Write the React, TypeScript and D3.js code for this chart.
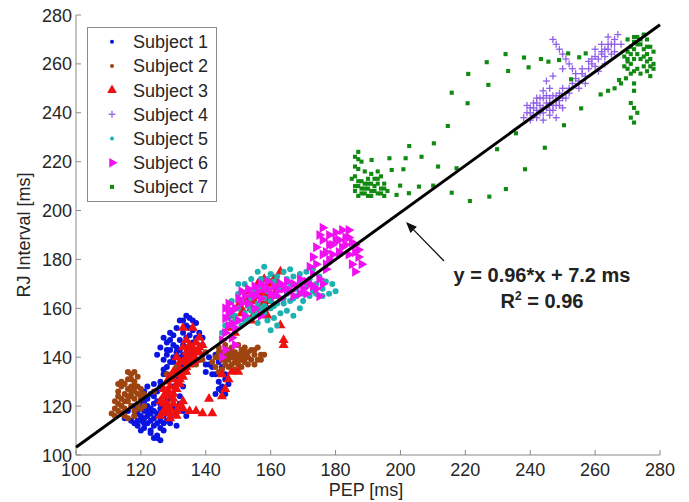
import React from "react";
import * as d3 from "d3";

const W = 689;
const H = 502;

const xTicks = [100, 120, 140, 160, 180, 200, 220, 240, 260, 280];
const yTicks = [100, 120, 140, 160, 180, 200, 220, 240, 260, 280];

const subjectNames = ["Subject 1", "Subject 2", "Subject 3", "Subject 4", "Subject 5", "Subject 6", "Subject 7"];

const subject1: [number, number][] = [
  [119,112],[120,114],[121,111],[122,113],[123,110],[124,112],[125,108],[126,111],[127,113],[122,116],[121,118],[123,117],[124,115],[125,117],[126,119],[127,116],[128,118],[120,119],[122,120],[124,121],[125,122],[127,120],[128,122],[126,114],[123,119],[121,122],[119,117],[118,116],[117,114],[116,118],[115,115],[114,117],[118,120],[124,107],[126,106],[129,115],[130,119],[129,123],[130,125],[128,126],
  [126,130],[127,133],[128,136],[127,139],[128,141],[129,143],[130,145],[129,147],[131,142],[130,138],[132,140],[131,135],[133,137],[132,147],[133,150],[134,153],[133,155],[135,156],[136,151],[137,154],[138,150],[136,146],[134,144],[135,141],[137,143],[138,139],[139,141],[140,137],[141,140],[139,145],[128,146],[126,144],[125,141],[127,148],[129,150],[131,152],[125,126],[126,128],[124,129],[123,125],[122,128],[121,126],[130,128],[131,131],[132,124],[133,128],
  [142,136],[143,133],[144,130],[145,128],[146,131],[144,138],[143,141],[145,126],[146,125],[147,129],
  [129,113],[131,112],[133,118],[132,121],[134,116],[123,109],[125,107],[121,115],[120,110],[118,113],
  [120,116],[122,118],[124,118],[126,116],[125,113],[123,114],[121,113],[127,110],[128,114],[126,121],[124,124],[122,123],[120,121],[119,114],[128,133],[129,138],[130,140],[131,144],[132,143],[133,145],[134,148],[135,149],[136,155],[134,157],[132,155],[130,149],[128,143],[127,135],[133,141],[135,152],[137,148],[139,148],[141,137],[140,134],[142,133],[144,127],[143,125],[146,133],[145,136]
];

const subject2: [number, number][] = [
  [112,116],[113,118],[114,117],[115,119],[113,121],[114,123],[115,125],[116,127],[115,129],[116,131],[117,133],[118,130],[119,128],[118,126],[117,124],[116,122],[117,120],[118,118],[119,121],[120,123],[121,125],[120,127],[119,132],[117,128],[114,128],[113,126],[115,122],[112,119],[111,117],[116,115],[118,116],[120,119],[121,120],[116,134],[118,134],[119,125],[114,130],[113,129],
  [124,126],[128,133],[131,136],[134,138],[137,137],[139,139],[140,142],
  [142,138],[143,140],[144,142],[145,139],[146,141],[147,143],[148,140],[149,138],[150,141],[151,139],[152,142],[153,140],[154,143],[155,141],[156,139],[147,136],[149,135],[151,136],[153,137],[146,137],[145,135],[148,144],[150,145],[144,134],[143,136],[152,144],[155,137],[157,141],[156,144],[149,142],[151,143],[146,145],[144,144],[148,137],[150,139],[152,138],[147,139],
  [114,120],[115,116],[116,124],[117,126],[118,123],[119,119],[113,124],[112,122],[117,131],[118,128],[120,125],[145,142],[147,141],[149,140],[150,137],[152,140],[154,139],[153,142],[151,141],[148,142],[146,139],[144,140],[155,143],[157,139],[158,141]
];

const subject3: [number, number][] = [
  [126,116],[127,118],[128,117],[129,119],[130,121],[131,118],[132,120],[133,122],[128,121],[127,124],[128,126],[129,128],[130,125],[131,127],[132,129],[130,131],[131,133],[132,135],[133,132],[134,134],[133,138],[134,140],[135,137],[136,141],[137,139],[136,144],[137,146],[138,148],[135,145],[134,147],[133,152],[136,152],[138,142],[139,145],[128,130],[127,127],[126,122],[129,115],[131,116],[135,118],[137,118],[139,117],[142,117],[141,123],[145,124],[146,127],[147,131],[148,134],[145,133],[150,134],
  [148,157],[150,161],[151,158],[152,163],[153,167],[154,160],[155,158],[156,165],[157,162],[158,160],[159,164],[160,170],[161,172],[162,168],[160,163],[157,167],[159,157],[163,153],[164,147],[164,145],[162,171],[163,175],[158,172],[156,170],[154,155],[149,150],[147,152],
  [128,119],[130,123],[129,125],[131,129],[132,131],[133,134],[134,136],[135,139],[136,138],[137,142],[138,144],[135,143],[134,142],[133,144],[132,138],[131,140],[129,132],[130,134],[128,124],[127,121],[129,117],[133,119],[151,160],[153,163],[155,163],[157,165],[159,166],[161,165],[158,162],[156,160]
];

const subject4: [number, number][] = [
  [238,238],[239,240],[240,242],[241,239],[242,241],[243,243],[244,240],[245,242],[246,244],[247,241],[248,243],[249,245],[250,242],[241,244],[243,246],[245,247],[247,247],[249,248],[240,237],[242,238],[244,237],[246,239],[248,238],[251,246],[252,248],[239,243],[244,249],[246,250],[250,250],
  [252,250],[253,252],[254,254],[255,253],[256,256],[257,255],[258,258],[259,260],[260,259],[261,262],[262,264],[263,263],[264,266],[265,268],[266,270],[267,272],[264,271],[262,268],[260,266],[265,264],[268,268],[266,265],[263,260],[261,257],[259,262],
  [247,270],[248,268],[249,266],[250,264],[251,262],[252,260],[253,258],[250,258],[247,255],[245,253],
  [240,240],[241,242],[242,244],[243,240],[244,242],[245,244],[246,241],[247,243],[248,245],[249,243],[250,246],[242,246],[244,246],[246,246],[248,247],[254,256],[256,258],[258,261],[260,263],[262,265],[264,268],[266,268],[263,266],[255,250],[257,252]
];

const subject5: [number, number][] = [
  [145,150],[146,153],[147,156],[148,158],[149,155],[150,160],[151,163],[152,158],[153,161],[154,164],[155,166],[156,162],[157,160],[158,164],[159,167],[160,163],[161,161],[162,165],[163,168],[164,162],[165,166],[166,170],[167,164],[168,168],[169,171],[170,166],[171,169],[172,172],[173,167],[174,170],[175,173],[176,168],[177,171],[178,166],[179,170],[180,167],[152,170],[154,172],[156,175],[158,177],[160,174],[157,172],[155,168],[150,166],[148,163],[162,173],[164,175],[166,176],[153,156],[156,154],[159,155],[161,156],[163,158],[165,159],[167,157],[169,160],[160,151],[162,153],[158,158],[155,157],
  [151,153],[152,155],[154,159],[156,158],[158,161],[160,160],[162,162],[164,164],[166,163],[168,165],[170,163],[172,165],[174,166],[176,165],[157,169],[159,172],[161,171],[163,170],[165,172],[167,173],[169,174],[171,175],[173,176],[150,170],[149,157],[148,153]
];

const subject6: [number, number][] = [
  [145,140],[146,143],[145,147],[146,150],[147,153],[146,156],[148,159],[147,162],[149,160],[150,164],[151,167],[152,165],[153,162],[154,166],[155,169],[156,167],[157,164],[158,168],[159,171],[160,166],[161,169],[162,167],[163,164],[164,168],[165,171],[166,167],[167,165],[168,169],[169,172],[170,168],[171,166],[172,170],[173,174],[174,168],[175,165],[176,170],[177,176],[172,177],[173,181],[174,185],[175,190],[176,188],[177,183],[178,180],[179,186],[180,191],[181,188],[182,185],[183,189],[184,192],[185,187],[186,183],[187,181],[188,178],[186,175],[185,178],[184,182],[155,160],[157,157],[150,155],[152,157],[148,148],[149,145],
  [151,162],[153,168],[155,165],[157,170],[159,168],[161,165],[163,170],[165,168],[167,170],[169,166],[171,171],[173,169],[175,172],[174,178],[176,182],[178,186],[180,188],[182,192],[184,189],[186,186],[187,184],[178,190],[176,193],[177,178],[179,182],[181,183],[183,186],[149,152],[147,158],[146,160],[148,154]
];

const subject7: [number, number][] = [
  [186,208],[187,210],[188,207],[189,209],[190,211],[191,208],[192,210],[193,207],[194,209],[195,211],[188,212],[190,213],[192,213],[194,214],[186,214],[187,217],[188,220],[186,222],[187,224],[189,216],[191,215],[193,216],[190,206],[195,206],[196,208],
  [186,210],[187,212],[188,209],[189,211],[190,209],[191,211],[192,208],[193,211],[194,207],[195,209],[189,207],[191,206],[193,213],[187,206],[185,213],[186,218],[187,221],
  [191.1,220.7],[196.6,221.4],[197.3,216.6],[200.9,216.9],[201.6,221.4],[202.7,226.4],[199.9,210.2],[202.6,207.1],[198.8,206.4],[205.7,209.8],[206.5,222.0],[210.3,227.5],[211.6,218.0],[210.1,210.2],[214.6,234.6],[215.8,207.3],[217.3,217.3],[221.4,203.9],[215.8,248.2],[220.7,243.9],[220.9,255.9],[226.6,260.7],[227.1,251.4],[227.4,205.7],[229.8,225.1],[232.5,208.8],[232.4,264.0],[233.2,257.1],[235.6,231.6],[238.4,216.9],[238.1,262.6],[239.5,258.6],[243.3,262.0],[245.6,260.9],[244.5,225.7],[248.9,261.6],[250.4,234.9],[252.6,253.7],[251.7,264.3],[255.1,262.7],[255.7,241.8],[257.1,264.3],[261.7,247.5],[267.4,253.4],[269.5,254.1],
  [269,263],[270,265],[271,267],[272,269],[273,271],[274,268],[275,266],[276,264],[277,262],[278,260],[274,262],[273,264],[271,260],[270,258],[272,257],[275,259],[276,257],[277,255],[278,258],[274,256],[270,270],[276,270],[277,267],[272,262],[275,272],
  [270,262],[271,264],[272,266],[273,268],[274,270],[275,263],[276,261],[277,259],[273,258],[271,256],[270,261],[276,267],[278,265],[269,259],[272,271],
  [272,252],[272,249],[271,244],[272,242],[273,240],[271,238],[272,236],[268,252],[266,250],[264,249]
];

const fitSlope = 0.96;
const fitIntercept = 7.2;

const xScale = d3.scaleLinear().domain([100, 280]).range([76, 660]);
const yScale = d3.scaleLinear().domain([100, 280]).range([455, 15]);

type Kind = "dot" | "tri" | "plus" | "rtri" | "sq";
const series: { data: [number, number][]; color: string; kind: Kind }[] = [
  { data: subject1, color: "#0a14e0", kind: "dot" },
  { data: subject2, color: "#9e4410", kind: "dot" },
  { data: subject3, color: "#f01010", kind: "tri" },
  { data: subject4, color: "#9060e8", kind: "plus" },
  { data: subject5, color: "#1cb2b2", kind: "dot" },
  { data: subject6, color: "#f010f0", kind: "rtri" },
  { data: subject7, color: "#118a11", kind: "sq" },
];

const triPath = d3.symbol().type(d3.symbolTriangle).size(44)() as string;
const sqPath = d3.symbol().type(d3.symbolSquare).size(17)() as string;
const triLegend = d3.symbol().type(d3.symbolTriangle).size(40)() as string;

function Marker({ x, y, color, kind, legend }: { x: number; y: number; color: string; kind: Kind; legend?: boolean }) {
  switch (kind) {
    case "dot":
      return <circle cx={x} cy={y} r={legend ? 2 : 3} fill={color} />;
    case "tri":
      return <path d={legend ? triLegend : triPath} transform={`translate(${x},${y})`} fill={color} />;
    case "rtri":
      return <path d={legend ? triLegend : triPath} transform={`translate(${x},${y}) rotate(90)`} fill={color} />;
    case "sq":
      return <path d={sqPath} transform={`translate(${x},${y})`} fill={color} />;
    case "plus":
      return (
        <g stroke={color} strokeWidth={1.3}>
          <line x1={x - 3.5} x2={x + 3.5} y1={y} y2={y} />
          <line x1={x} x2={x} y1={y - 3.5} y2={y + 3.5} />
        </g>
      );
  }
}

export default function App() {
  const font = "'Liberation Sans', Arial, Helvetica, sans-serif";
  const axisColor = "#8a8a8a";
  const textColor = "#262626";
  const x0 = xScale(100);
  const x1 = xScale(280);
  const yb = yScale(100);
  const yt = yScale(280);

  const arrowTip: [number, number] = [406, 222];
  const arrowTail: [number, number] = [444, 261];
  const ang = Math.atan2(arrowTip[1] - arrowTail[1], arrowTip[0] - arrowTail[0]);
  const hl = 11, hw = 4.5;
  const bx = arrowTip[0] - hl * Math.cos(ang);
  const by = arrowTip[1] - hl * Math.sin(ang);
  const head = `M${arrowTip[0]},${arrowTip[1]} L${bx + hw * Math.sin(ang)},${by - hw * Math.cos(ang)} L${bx - hw * Math.sin(ang)},${by + hw * Math.cos(ang)} Z`;

  return (
    <svg width={W} height={H} style={{ position: "absolute", left: 0, top: 0, background: "#fff" }} fontFamily={font}>
      <rect x={0} y={0} width={W} height={H} fill="#fff" />
      <line x1={x0} x2={x1} y1={yb} y2={yb} stroke={axisColor} strokeWidth={1} />
      <line x1={x0} x2={x0} y1={yb} y2={yt} stroke={axisColor} strokeWidth={1} />
      {xTicks.map((t) => (
        <g key={"xt" + t}>
          <line x1={xScale(t)} x2={xScale(t)} y1={yb} y2={yb - 5} stroke={axisColor} />
          <text x={xScale(t)} y={476} textAnchor="middle" fontSize={18} fill={textColor}>{t}</text>
        </g>
      ))}
      {yTicks.map((t) => (
        <g key={"yt" + t}>
          <line x1={x0} x2={x0 + 5} y1={yScale(t)} y2={yScale(t)} stroke={axisColor} />
          <text x={72} y={yScale(t) + 6.5} textAnchor="end" fontSize={18} fill={textColor}>{t}</text>
        </g>
      ))}
      <text x={366} y={496} textAnchor="middle" fontSize={18} fill={textColor}>PEP [ms]</text>
      <text transform={`translate(30,${(yb + yt) / 2}) rotate(-90)`} textAnchor="middle" fontSize={18} fill={textColor}>RJ Interval [ms]</text>

      {series.map((s, i) => (
        <g key={"s" + i}>
          {s.data.map((d, j) => (
            <Marker key={j} x={xScale(d[0])} y={yScale(d[1])} color={s.color} kind={s.kind} />
          ))}
        </g>
      ))}

      <line x1={xScale(100)} y1={yScale(fitSlope * 100 + fitIntercept)} x2={xScale(280)} y2={yScale(fitSlope * 280 + fitIntercept)} stroke="#000" strokeWidth={3} />

      <line x1={arrowTail[0]} y1={arrowTail[1]} x2={bx} y2={by} stroke="#111" strokeWidth={1.3} />
      <path d={head} fill="#111" />
      <text x={542} y={282} textAnchor="middle" fontSize={20} fontWeight="bold" fill="#222">y = 0.96*x + 7.2 ms</text>
      <text x={542} y={308} textAnchor="middle" fontSize={20} fontWeight="bold" fill="#222">
        R<tspan dy={-8} fontSize={12}>2</tspan><tspan dy={8}> = 0.96</tspan>
      </text>

      <rect x={87.5} y={27.5} width={129} height={174} fill="#fff" stroke={axisColor} strokeWidth={1} />
      {subjectNames.map((name, i) => {
        const cy = 41.7 + i * 24.2;
        const s = series[i];
        return (
          <g key={"lg" + i}>
            <Marker x={112} y={cy} color={s.color} kind={s.kind} legend />
            <text x={133} y={cy + 6.5} fontSize={18} fill={textColor}>{name}</text>
          </g>
        );
      })}
    </svg>
  );
}
